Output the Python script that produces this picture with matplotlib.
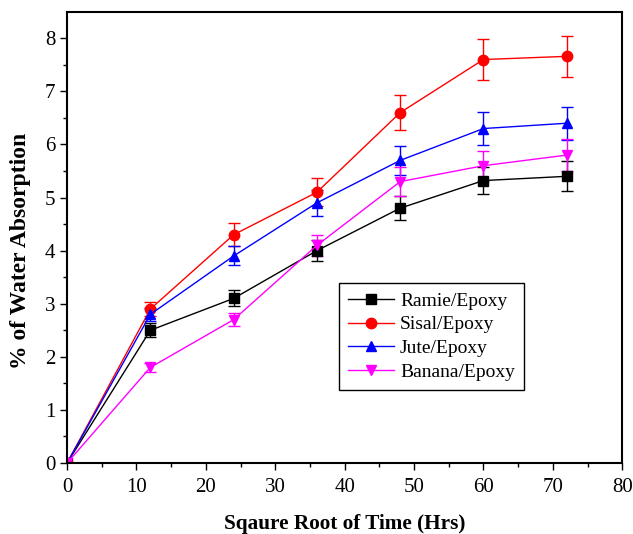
import numpy as np
import matplotlib.pyplot as plt

plt.rcParams['font.family'] = ['Liberation Serif', 'DejaVu Serif']

time = [0, 12, 24, 36, 48, 60, 72]

ramie = [0, 2.5, 3.1, 4.0, 4.8, 5.32, 5.4]
ramie_err = [0, 0.13, 0.15, 0.2, 0.23, 0.26, 0.28]
sisal = [0, 2.9, 4.3, 5.1, 6.6, 7.6, 7.66]
sisal_err = [0, 0.13, 0.22, 0.26, 0.33, 0.38, 0.38]
jute = [0, 2.8, 3.9, 4.9, 5.7, 6.3, 6.4]
jute_err = [0, 0.12, 0.18, 0.25, 0.28, 0.31, 0.31]
banana = [0, 1.8, 2.7, 4.1, 5.3, 5.6, 5.8]
banana_err = [0, 0.08, 0.12, 0.2, 0.27, 0.28, 0.3]

series = [
    ('Ramie/Epoxy', ramie, ramie_err, 'black', 's'),
    ('Sisal/Epoxy', sisal, sisal_err, 'red', 'o'),
    ('Jute/Epoxy', jute, jute_err, 'blue', '^'),
    ('Banana/Epoxy', banana, banana_err, 'magenta', 'v'),
]

fig = plt.figure(figsize=(6.33, 5.34), dpi=100)
ax = fig.add_axes([0.106, 0.133, 0.877, 0.845])

handles, labels = [], []
for label, y, err, color, marker in series:
    c = ax.errorbar(time, y, yerr=err, color=color, marker=marker, markersize=7.5,
                    linewidth=1, elinewidth=1, capsize=4, capthick=1)
    handles.append(c[0])
    labels.append(label)

ax.set_xlim(0, 80)
ax.set_ylim(0, 8.5)
ax.set_xticks(np.arange(0, 81, 10))
ax.set_xticks(np.arange(5, 80, 10), minor=True)
ax.set_yticks(np.arange(0, 9, 1))
ax.set_yticks(np.arange(0.5, 8.5, 1), minor=True)
ax.tick_params(which='both', direction='out', top=False, right=False, labelsize=15, width=1)
ax.tick_params(which='major', length=5)
ax.tick_params(which='minor', length=3)
ax.tick_params(axis='x', pad=6)
for s in ax.spines.values():
    s.set_linewidth(1.5)

ax.set_xlabel('Sqaure Root of Time (Hrs)', fontsize=15.3, fontweight='bold', labelpad=12)
ax.set_ylabel('% of Water Absorption', fontsize=17, fontweight='bold')
ax.yaxis.set_label_coords(-0.065, 0.47)

leg = ax.legend(handles, labels, loc='upper left', bbox_to_anchor=(0.472, 0.42), fontsize=14,
                fancybox=False, edgecolor='black', framealpha=1, handlelength=2.4,
                handletextpad=0.3, borderpad=0.45, labelspacing=0.32)
leg.get_frame().set_linewidth(1)

fig.savefig('out.png', dpi=100)
